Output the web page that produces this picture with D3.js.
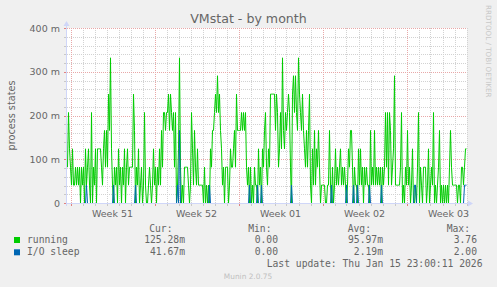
<!DOCTYPE html>
<html>
<head>
<meta charset="utf-8">
<script src="https://cdn.jsdelivr.net/npm/d3@7"></script>
<style>
  body { margin: 0; background: #f0f0f0; }
  svg { display: block; }
</style>
</head>
<body>
<div id="chart"></div>
<script>
// munin "vmstat" month graph, 2h buckets, values in milli-processes
const title = "VMstat - by month";
const yLabel = "process states";
const yTickValues = [0, 100, 200, 300, 400];
const yTickLabels = ["0", "100 m", "200 m", "300 m", "400 m"];
const weekLabels = ["Week 51", "Week 52", "Week 01", "Week 02", "Week 03"];

// first bucket + bucket size
const startTime = Date.UTC(2025, 11, 13, 17, 0);
const stepMs = 2 * 3600 * 1000;

const running = [
  83,208,125,83,42,125,42,42,83,42, 83,42,83,0,83,42,83,0,125,42,
  83,125,42,0,208,0,83,42,125,0, 125,125,125,125,83,42,125,167,83,167,
  83,250,167,333,125,42,0,83,42,83, 0,125,42,83,0,83,42,125,0,83,
  125,42,83,83,83,83,250,167,0,83, 42,125,0,42,83,0,42,208,42,0,
  0,42,83,42,0,42,125,42,83,0, 83,42,125,42,167,83,208,208,167,208,
  208,250,167,250,208,167,208,83,208,0, 42,125,333,83,0,42,0,83,83,83,
  83,42,0,42,208,125,42,167,83,42, 125,42,42,42,42,42,0,83,0,42,
  0,42,0,125,83,167,167,208,250,208, 292,208,250,167,125,42,83,0,83,83,
  83,0,42,125,83,83,125,167,83,250, 167,167,167,167,208,167,208,167,208,83,
  42,83,0,83,0,42,0,83,42,42, 0,125,42,83,0,125,83,167,208,83,
  42,125,83,250,250,250,250,250,167,250, 208,83,125,208,125,333,167,125,208,167,
  208,250,208,83,0,250,292,208,292,208, 167,333,250,208,167,250,167,125,83,167,
  83,167,250,42,0,125,42,167,42,125, 83,167,83,0,42,42,42,42,0,0,
  42,42,167,42,0,83,0,42,125,42, 83,42,83,125,42,83,42,83,42,0,
  42,125,83,167,167,83,0,83,42,42, 0,125,42,125,42,83,0,83,42,83,
  42,42,0,167,42,83,42,167,42,83, 42,83,42,83,0,83,42,83,208,83,
  208,42,208,167,42,83,125,292,42,42, 42,42,42,83,208,0,42,0,83,42,
  167,42,83,0,42,125,0,0,42,0, 83,208,0,83,42,0,83,83,83,0,
  42,125,0,42,83,42,208,0,42,0, 42,83,167,0,42,0,42,0,42,0,
  42,0,83,167,83,42,42,42,42,42, 0,42,42,0,83,83,42,83,125,125
];

const ioSleep = [
  0,0,0,0,0,0,0,0,0,0,0,0,0,0,0,0,0,0,0,42,
  0,0,0,0,0,0,0,0,0,0,0,0,0,0,0,0,0,0,0,0,
  0,0,0,0,0,0,42,0,0,0,0,0,0,0,0,0,0,0,0,0,
  0,0,0,0,0,0,0,0,42,0,0,0,0,0,0,0,0,0,0,0,
  0,0,0,0,0,0,0,0,0,0,0,0,0,0,0,0,0,0,0,0,
  0,0,0,0,0,0,0,0,0,0,42,0,167,0,0,0,0,0,0,0,
  0,0,0,0,0,0,0,0,0,0,0,0,0,0,0,0,0,0,0,0,
  0,0,42,0,0,0,0,0,0,0,0,0,0,0,0,0,0,0,0,0,
  0,0,0,0,0,0,0,0,0,0,0,0,0,0,0,0,0,0,0,0,
  0,0,42,0,0,0,0,0,0,0,42,0,0,0,42,0,0,0,0,0,
  0,0,0,0,0,0,0,0,0,0,0,0,0,0,0,0,0,0,0,0,
  0,0,0,0,42,0,0,0,0,0,0,0,0,0,0,0,0,0,0,0,
  0,0,0,0,0,0,0,0,0,0,0,0,0,0,0,0,0,0,0,0,
  0,0,0,0,42,0,0,0,0,0,0,0,0,0,0,0,0,0,0,42,
  0,0,0,0,0,0,42,0,0,0,42,0,0,0,0,0,0,0,0,0,
  0,0,42,0,0,0,0,0,0,0,0,0,0,0,42,0,0,0,0,0,
  0,0,0,0,0,0,0,0,0,0,0,0,0,0,0,0,0,0,0,0,
  0,0,0,0,0,0,0,42,42,0,0,0,0,0,0,0,0,0,0,0,
  0,0,0,0,0,0,0,0,0,0,0,0,0,0,0,0,0,0,0,0,
  0,0,0,0,0,0,0,0,0,0,0,0,0,0,0,0,0,42,42,42
];

const seriesNames = ["running", "I/O sleep"];
const seriesColors = ["#00cc00", "#0066b3"];
const curValues = ["125.28m", "41.67m"];
const minValues = ["0.00", "0.00"];
const avgValues = ["95.97m", "2.19m"];
const maxValues = ["3.76", "2.00"];
const lastUpdate = "Last update: Thu Jan 15 23:00:11 2026";

const width = 497, height = 287;
const plot = { left: 67, right: 467, top: 28, bottom: 203 };
const axisColor = "#cfd6f8";
const fontColor = "#666666";

const svg = d3.select("#chart").append("svg")
  .attr("width", width)
  .attr("height", height)
  .style("background", "#f0f0f0");

const times = running.map((_, i) => new Date(startTime + i * stepMs));
const x = d3.scaleUtc()
  .domain([new Date(startTime), new Date(startTime + running.length * stepMs)])
  .range([plot.left, plot.right]);
const y = d3.scaleLinear().domain([0, 400]).range([plot.bottom, plot.top]);

const crisp = (v) => Math.round(v) + 0.5;

// canvas
svg.append("rect")
  .attr("x", plot.left).attr("y", plot.top)
  .attr("width", plot.right - plot.left).attr("height", plot.bottom - plot.top)
  .attr("fill", "#fff");

// grid
const grid = svg.append("g").attr("stroke-width", 1).attr("stroke-dasharray", "1,1");
const minorY = d3.range(0, 401, 20).filter((v) => v % 100 !== 0);
grid.selectAll(".hmin").data(minorY).join("line")
  .attr("x1", plot.left).attr("x2", plot.right)
  .attr("y1", (d) => crisp(y(d))).attr("y2", (d) => crisp(y(d)))
  .attr("stroke", "#d2d2d2");
const days = d3.utcDay.range(x.domain()[0], x.domain()[1]);
const sundays = d3.utcSunday.range(x.domain()[0], x.domain()[1]);
grid.selectAll(".vmin").data(days.filter((d) => d.getUTCDay() !== 0)).join("line")
  .attr("x1", (d) => crisp(x(d))).attr("x2", (d) => crisp(x(d)))
  .attr("y1", plot.top).attr("y2", plot.bottom)
  .attr("stroke", "#d2d2d2");
grid.selectAll(".hmaj").data(yTickValues.slice(1)).join("line")
  .attr("x1", plot.left).attr("x2", plot.right)
  .attr("y1", (d) => crisp(y(d))).attr("y2", (d) => crisp(y(d)))
  .attr("stroke", "#e8a8a8");
grid.selectAll(".vmaj").data(sundays).join("line")
  .attr("x1", (d) => crisp(x(d))).attr("x2", (d) => crisp(x(d)))
  .attr("y1", plot.top).attr("y2", plot.bottom)
  .attr("stroke", "#e8a8a8");

// series
const line = d3.line()
  .x((d, i) => x(times[i]) + 0.5)
  .y((d) => y(d) + 0.5);
svg.append("path").datum(running)
  .attr("fill", "none").attr("stroke", seriesColors[0]).attr("stroke-width", 1)
  .attr("d", line);
svg.append("path").datum(ioSleep)
  .attr("fill", "none").attr("stroke", seriesColors[1]).attr("stroke-width", 1)
  .attr("d", line);

// axes + arrows
const y0 = crisp(y(0));
const xa = crisp(plot.left - 1);
svg.append("line").attr("x1", plot.left - 3).attr("x2", plot.right + 2)
  .attr("y1", y0).attr("y2", y0).attr("stroke", axisColor);
svg.append("line").attr("x1", xa).attr("x2", xa)
  .attr("y1", plot.bottom + 3).attr("y2", plot.top - 3).attr("stroke", axisColor);
svg.append("path")
  .attr("d", `M${xa - 3},${plot.top - 2}L${xa + 3},${plot.top - 2}L${xa},${plot.top - 7}Z`)
  .attr("fill", axisColor);
svg.append("path")
  .attr("d", `M${plot.right + 1},${y0 - 3}L${plot.right + 1},${y0 + 3}L${plot.right + 6},${y0}Z`)
  .attr("fill", axisColor);

// small ticks
svg.append("g").selectAll("line").data(days).join("line")
  .attr("x1", (d) => crisp(x(d))).attr("x2", (d) => crisp(x(d)))
  .attr("y1", plot.bottom + 1).attr("y2", plot.bottom + 3)
  .attr("stroke", (d) => (d.getUTCDay() === 0 ? "#e08080" : "#c8c8c8"));
svg.append("g").selectAll("line").data(d3.range(0, 401, 20)).join("line")
  .attr("x1", plot.left - 3).attr("x2", plot.left - 1)
  .attr("y1", (d) => crisp(y(d))).attr("y2", (d) => crisp(y(d)))
  .attr("stroke", (d) => (d % 100 === 0 ? "#e08080" : "#c8c8c8"));

// labels
const sans = "'DejaVu Sans', sans-serif";
const mono = "'DejaVu Sans Mono', monospace";

svg.append("text").attr("x", width / 2).attr("y", 23)
  .attr("text-anchor", "middle").attr("font-family", sans).attr("font-size", 12.6)
  .attr("fill", fontColor).text(title);

svg.append("g").selectAll("text").data(yTickValues).join("text")
  .attr("x", plot.left - 7).attr("y", (d) => y(d) + 3.6)
  .attr("text-anchor", "end").attr("font-family", sans).attr("font-size", 9.5)
  .attr("fill", fontColor).text((d, i) => yTickLabels[i]);

svg.append("text")
  .attr("transform", `translate(15,${(plot.top + plot.bottom) / 2}) rotate(-90)`)
  .attr("text-anchor", "middle").attr("font-family", sans).attr("font-size", 9.7)
  .attr("fill", fontColor).text(yLabel);

svg.append("g").selectAll("text").data(sundays).join("text")
  .attr("x", (d) => x(d3.utcHour.offset(d, 84)))
  .attr("y", 216.5)
  .attr("text-anchor", "middle").attr("font-family", sans).attr("font-size", 9.5)
  .attr("fill", fontColor).text((d, i) => weekLabels[i]);

// legend
const legend = svg.append("g").attr("font-family", mono).attr("font-size", 9.7)
  .attr("fill", fontColor);
const colEnds = [185, 278, 383, 477];
const headerEnds = [172.5, 271.5, 371, 470];
["Cur:", "Min:", "Avg:", "Max:"].forEach((h, j) => {
  legend.append("text").attr("x", headerEnds[j]).attr("y", 231.5)
    .attr("text-anchor", "end").text(h);
});
seriesNames.forEach((name, i) => {
  const by = 243 + i * 12.3;
  svg.append("rect").attr("x", 14).attr("y", by - 6).attr("width", 6).attr("height", 6)
    .attr("fill", seriesColors[i]);
  legend.append("text").attr("x", 27).attr("y", by).text(name);
  [curValues, minValues, avgValues, maxValues].forEach((col, j) => {
    legend.append("text").attr("x", colEnds[j]).attr("y", by)
      .attr("text-anchor", "end").text(col[i]);
  });
});
legend.append("text").attr("x", 482.5).attr("y", 267)
  .attr("text-anchor", "end").text(lastUpdate);

svg.append("text").attr("x", 248).attr("y", 279)
  .attr("text-anchor", "middle").attr("font-family", sans).attr("font-size", 7.4)
  .attr("fill", "#c0c0c0").text("Munin 2.0.75");

svg.append("text")
  .attr("transform", "translate(486,5) rotate(90)")
  .attr("font-family", sans).attr("font-size", 7.2)
  .attr("fill", "#c8c8c8").text("RRDTOOL / TOBI OETIKER");
</script>
</body>
</html>
